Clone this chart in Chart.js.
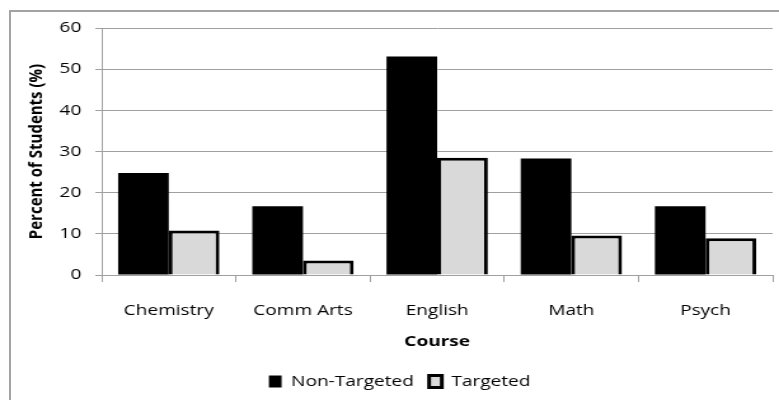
<!DOCTYPE html>
<html>
<head>
<meta charset="utf-8">
<title>Percent of Students by Course</title>
<script src="https://cdn.jsdelivr.net/npm/chart.js@4/dist/chart.umd.min.js"></script>
<style>
  html, body { margin: 0; padding: 0; background: #fff; }
  #wrap { position: relative; width: 779px; height: 400px; overflow: hidden; }
  /* the chart is laid out narrower, then widened to fill the frame */
  #course-chart { position: absolute; left: 0; top: 0; transform: scaleX(1.2708); transform-origin: 0 0; }
  #frame {
    position: absolute; left: 9px; top: 10px; width: 800px; height: 420px;
    border: 2px solid #a3a3a3; box-sizing: border-box; pointer-events: none;
  }
</style>
</head>
<body>
<div id="wrap">
  <canvas id="course-chart" width="613" height="400"></canvas>
  <div id="frame"></div>
</div>
<script>
const courses = ['Chemistry', 'Comm Arts', 'English', 'Math', 'Psych'];
const nonTargeted = [24.8, 16.7, 53.1, 28.3, 16.7];
const targeted = [10.8, 3.5, 28.5, 9.6, 8.9];
const yMin = 0;
const yMax = 60;
const yStep = 10;

const baseFont = "'Open Sans', sans-serif";
const gridGrey = '#a0a0a0';

function populateGraph() {
  const ctx = document.getElementById('course-chart').getContext('2d');
  return new Chart(ctx, {
    type: 'bar',
    data: {
      labels: courses,
      datasets: [
        {
          label: 'Non-Targeted',
          data: nonTargeted,
          backgroundColor: '#000000',
          borderColor: '#000000',
          borderWidth: 0
        },
        {
          label: 'Targeted',
          data: targeted,
          backgroundColor: '#d9d9d9',
          borderColor: '#000000',
          borderWidth: 3
        }
      ]
    },
    options: {
      responsive: false,
      animation: false,
      devicePixelRatio: 1,
      layout: { padding: { top: 28, right: 5, bottom: 1, left: 21 } },
      datasets: {
        bar: { categoryPercentage: 0.755, barPercentage: 1.0 }
      },
      plugins: {
        tooltip: { enabled: false },
        legend: {
          position: 'bottom',
          labels: {
            color: '#000',
            font: { family: baseFont, size: 15 },
            boxWidth: 10,
            boxHeight: 12,
            padding: 12
          }
        }
      },
      scales: {
        x: {
          grid: {
            drawOnChartArea: false,
            color: gridGrey,
            tickLength: 7
          },
          border: { color: gridGrey, width: 1 },
          ticks: {
            color: '#000',
            font: { family: baseFont, size: 15 },
            padding: 20
          },
          title: {
            display: true,
            text: 'Course',
            color: '#000',
            font: { family: baseFont, size: 15, weight: 'bold' },
            padding: { top: 0, bottom: 11 }
          },
          afterFit(scale) { scale.height = 87; }
        },
        y: {
          min: yMin,
          max: yMax,
          ticks: {
            stepSize: yStep,
            color: '#000',
            font: { family: baseFont, size: 15 },
            padding: 11
          },
          grid: {
            color: gridGrey,
            tickLength: 5
          },
          border: { color: gridGrey, width: 1 },
          title: {
            display: true,
            text: 'Percent of Students (%)',
            color: '#000',
            font: { family: baseFont, size: 15, weight: 'bold', lineHeight: 1 },
            padding: { top: 0, bottom: 0 }
          },
          afterFit(scale) { scale.width = 59; }
        }
      }
    }
  });
}

populateGraph();
</script>
</body>
</html>
